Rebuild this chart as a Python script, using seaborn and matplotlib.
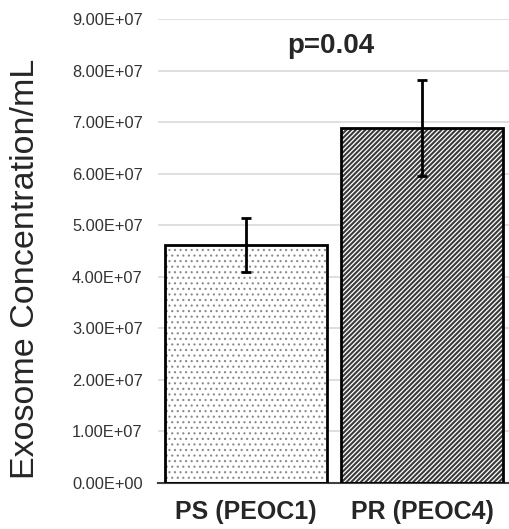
import matplotlib
matplotlib.use('Agg')
import matplotlib.pyplot as plt
import seaborn as sns
import pandas as pd
import numpy as np

# chart values
groups = ['PS (PEOC1)', 'PR (PEOC4)']
concentration = [4.62e7, 6.88e7]
error = [0.52e7, 0.93e7]
yticks = [0, 1e7, 2e7, 3e7, 4e7, 5e7, 6e7, 7e7, 8e7, 9e7]
p_text = 'p=0.04'

df = pd.DataFrame({'group': groups, 'conc': concentration})

sns.set_style('white')
plt.rcParams['font.family'] = ['Liberation Sans', 'DejaVu Sans']
plt.rcParams['hatch.linewidth'] = 1.0

fig = plt.figure(figsize=(5.1, 5.29), dpi=100)
ax = fig.add_axes([0.31, 0.087, 0.69, 0.877])

# hatched fill (gray dots for PS, dark diagonal stripes for PR)
sns.barplot(data=df, x='group', y='conc', ax=ax, width=0.92, color='white',
            errorbar=None, linewidth=0, zorder=2)
hatches = ['...', '///////']
hcolors = ['#8a8a8a', '#3a3a3a']
hwidths = [0.8, 1.5]
for patch, h, c, w in zip(ax.patches, hatches, hcolors, hwidths):
    patch.set_hatch(h)
    patch.set_edgecolor(c)
    patch.set_facecolor('white')
    if hasattr(patch, '_hatch_linewidth'):
        patch._hatch_linewidth = w

# black outlines on top
sns.barplot(data=df, x='group', y='conc', ax=ax, width=0.92, fill=False,
            errorbar=None, edgecolor='black', linewidth=2, zorder=3)

ax.errorbar(x=range(len(groups)), y=concentration, yerr=error, fmt='none',
            ecolor='black', elinewidth=2, capsize=3.5, capthick=2, zorder=4)

ax.set_ylim(0, 9e7)
ax.set_xlim(-0.5, 1.5)
ax.set_yticks(yticks)
ax.set_yticklabels(['%.2fE+%02d' % (v / 1e7, 7) if v > 0 else '0.00E+00' for v in yticks],
                   fontsize=11.8, color='#333333')
ax.yaxis.grid(True, color='#d9d9d9', linewidth=1.2, zorder=0)
ax.set_axisbelow(True)
ax.tick_params(axis='y', length=0, pad=11)
ax.tick_params(axis='x', length=0, pad=12)
for lbl in ax.get_xticklabels():
    lbl.set_fontsize(18)
    lbl.set_fontweight('bold')
ax.set_xlabel('')
ax.set_ylabel('Exosome Concentration/mL', fontsize=24.5)
ax.yaxis.set_label_coords(-0.333, 0.461)

for s in ['top', 'right', 'left']:
    ax.spines[s].set_visible(False)
ax.spines['bottom'].set_color('#404040')
ax.spines['bottom'].set_linewidth(1.5)

ax.text(0.48, 8.47e7, p_text, ha='center', va='center', fontsize=20,
        fontweight='bold')

fig.savefig('out.png', dpi=100)
